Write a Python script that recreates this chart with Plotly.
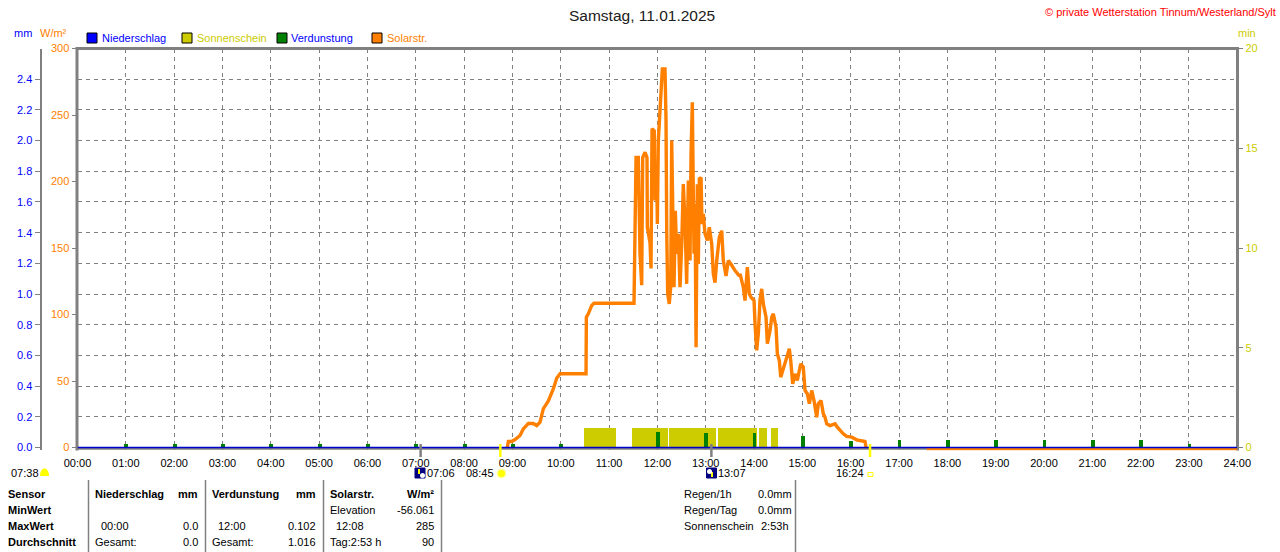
import plotly.graph_objects as go

W, H = 1280, 552
FONT = "Liberation Sans, Arial, sans-serif"

# --- data -------------------------------------------------------------
hours = list(range(25))
hour_labels = ["%02d:00" % h for h in hours]

# Niederschlag (mm), hourly
niederschlag_mm = [0.0, 0.0, 0.0, 0.0, 0.0, 0.0, 0.0, 0.0, 0.0, 0.0, 0.0, 0.0, 0.0,
                   0.0, 0.0, 0.0, 0.0, 0.0, 0.0, 0.0, 0.0, 0.0, 0.0, 0.0, 0.0]

# Verdunstung (mm), hourly
verdunstung_h = [1, 2, 3, 4, 5, 6, 7, 8, 9, 10, 11, 12, 13, 14, 15, 16, 17, 18, 19, 20, 21, 22, 23]
verdunstung_mm = [0.024, 0.024, 0.024, 0.024, 0.024, 0.024, 0.024, 0.024, 0.024, 0.024, 0.0,
                  0.102, 0.100, 0.100, 0.075, 0.046, 0.052, 0.052, 0.052, 0.052, 0.052, 0.052, 0.028]

# Sonnenschein (min) blocks
sonne_start = ["10:28", "11:28", "12:14", "13:14", "14:06", "14:21"]
sonne_end = ["11:08", "12:13", "13:12", "14:03", "14:16", "14:29"]
sonne_min = [1.0, 1.0, 1.0, 1.0, 1.0, 1.0]

# Solarstrahlung (W/m2), time in hours
solar_t = [8.894, 8.915, 8.985, 9.054, 9.157, 9.225, 9.329, 9.432, 9.503, 9.571, 9.639, 9.743,
           9.846, 9.916, 9.985, 10.523, 10.53, 10.570, 10.641, 10.688, 11.516, 11.526, 11.537,
           11.558, 11.605, 11.626, 11.640, 11.675, 11.696, 11.744, 11.785, 11.792, 11.847,
           11.868, 11.889, 11.936, 11.951, 11.986, 11.999, 12.019, 12.055, 12.075, 12.102,
           12.157, 12.178, 12.193, 12.213, 12.246, 12.275, 12.296, 12.317, 12.344, 12.371,
           12.400, 12.433, 12.468, 12.503, 12.536, 12.571, 12.606, 12.640, 12.675, 12.696,
           12.723, 12.743, 12.758, 12.779, 12.800, 12.826, 12.847, 12.868, 12.903, 12.923,
           12.950, 12.985, 13.033, 13.074, 13.124, 13.157, 13.192, 13.228, 13.281, 13.331,
           13.364, 13.420, 13.468, 13.538, 13.606, 13.695, 13.710, 13.778, 13.813, 13.861,
           13.902, 13.937, 14.000, 14.020, 14.055, 14.088, 14.123, 14.158, 14.192, 14.248,
           14.275, 14.331, 14.366, 14.399, 14.455, 14.482, 14.523, 14.552, 14.593, 14.641,
           14.688, 14.730, 14.759, 14.800, 14.848, 14.895, 14.937, 14.966, 15.019, 15.055,
           15.102, 15.144, 15.193, 15.241, 15.297, 15.330, 15.386, 15.433, 15.468, 15.504,
           15.572, 15.676, 15.723, 15.779, 15.847, 15.917, 16.021, 16.124, 16.296, 16.317,
           None, 17.573, 24.0]
solar_w = [0, 4.5, 4.5, 6, 9, 14, 18, 18, 16.5, 19, 29, 35,
           44, 52, 55.4, 55.4, 98, 100.5, 106.8, 108.5, 108.5, 137, 195.7,
           218, 218, 188, 146, 122, 218, 222, 218, 165.6, 154,
           134.6, 239.6, 238, 185.7, 203, 168, 230.8, 253, 268, 284.7,
           284.7, 247, 163, 115.6, 108, 120.5, 230.8, 190.7, 120.5, 178,
           145.6, 160.7, 120.5, 153, 198, 170.7, 123, 200.8, 140.6, 220.8,
           259.6, 190.7, 145.6, 183, 75.4, 198, 138, 202, 203, 168,
           175.7, 160.7, 155.6, 165.6, 153, 130.6, 124, 140.6, 158, 163,
           140.6, 129, 140.6, 137, 133, 129, 130.6, 120.5, 110.5, 135.6,
           115.6, 113, 110.5, 93, 73, 85.5, 110.5, 119.3, 108, 98,
           78, 88, 98, 100.5, 90.5, 70.5, 65.4, 52.9, 57.9, 65.4,
           70.5, 74.2, 65.4, 47.9, 55.4, 50.4, 57.9, 62.9, 60.4, 42.9,
           40.4, 32.9, 42.9, 35.3, 22.8, 32.9, 35.3, 25.3, 22.8, 17.8,
           16.5, 17.8, 15.3, 12.8, 10.3, 8.3, 7.8, 5.8, 4.5, 0,
           None, -1.2, -1.2]

# sun / moon events
sonne_auf, sonne_unter = 8.75, 16.4      # 08:45, 16:24
mond_unter, mond_auf = 7.1, 13.117       # 07:06, 13:07


def hm(s):
    h, m = s.split(":")
    return int(h) + int(m) / 60.0


sonne_x = [(hm(a) + hm(b)) / 2 for a, b in zip(sonne_start, sonne_end)]
sonne_w = [hm(b) - hm(a) for a, b in zip(sonne_start, sonne_end)]

# --- layout helpers (pixel -> paper) -----------------------------------
def X(p):
    return p / W


def Y(p):
    return (H - p) / H


GRAY = "#808080"
BLUE = "#0000ff"
ORANGE = "#ff8000"
YELLOW = "#cccc00"
GREEN = "#008000"

lo = 2.0  # W/m2 below zero shown
top_px, zero_px = 48.5, 447.5
ppw = (zero_px - top_px) / 300.0
dom_y = [Y(zero_px + lo * ppw), Y(top_px)]
dom_x = [X(77.5), X(1237.3)]

fig = go.Figure()
fig.add_trace(go.Bar(x=sonne_x, y=sonne_min, width=sonne_w, marker=dict(color=YELLOW, line=dict(width=0)),
                     xaxis="x", yaxis="y", name="Sonnenschein"))
fig.add_trace(go.Bar(x=verdunstung_h, y=verdunstung_mm, width=0.08, marker=dict(color=GREEN, line=dict(width=0)),
                     xaxis="x", yaxis="y2", name="Verdunstung"))
fig.add_trace(go.Scatter(x=solar_t, y=solar_w, mode="lines", line=dict(color=ORANGE, width=3.4),
                         connectgaps=False, xaxis="x", yaxis="y3", name="Solarstr."))
fig.add_trace(go.Scatter(x=hours, y=niederschlag_mm, mode="lines", line=dict(color="#0000cc", width=1.6),
                         xaxis="x", yaxis="y4", name="Niederschlag"))


def txt(x, y, s, color="black", size=11, anchor="left", bold=False):
    return dict(x=X(x), y=Y(y), xref="paper", yref="paper", text=s, showarrow=False,
                xanchor=anchor, yanchor="middle", borderpad=0,
                font=dict(family=FONT, size=size, color=color, weight="bold" if bold else "normal"))


ann = [
    txt(642, 15, "Samstag, 11.01.2025", color="#202020", size=15.5, anchor="center"),
    txt(1277, 12, "© private Wetterstation Tinnum/Westerland/Sylt", color="#ff0000", anchor="right"),
    txt(13, 33, "mm", color=BLUE),
    txt(39, 33, "W/m²", color=ORANGE),
    txt(1237, 33, "min", color=YELLOW),
    txt(101, 38, "Niederschlag", color=BLUE),
    txt(196, 38, "Sonnenschein", color=YELLOW),
    txt(290, 38, "Verdunstung", color=BLUE),
    txt(386, 38, "Solarstr.", color=ORANGE),
    txt(10, 473, "07:38"),
    txt(426, 473, "07:06"),
    txt(495, 473, "08:45", anchor="right"),
    txt(717, 473, "13:07"),
    txt(865, 473, "16:24", anchor="right"),
]

# table
rows = [494, 510, 526, 542]
for r, s in zip(rows, ["Sensor", "MinWert", "MaxWert", "Durchschnitt"]):
    ann.append(txt(7, r, s, bold=True))
ann += [
    txt(94, rows[0], "Niederschlag", bold=True), txt(199, rows[0], "mm", bold=True, anchor="right"),
    txt(211, rows[0], "Verdunstung", bold=True), txt(317, rows[0], "mm", bold=True, anchor="right"),
    txt(329, rows[0], "Solarstr.", bold=True), txt(435, rows[0], "W/m²", bold=True, anchor="right"),
    txt(329, rows[1], "Elevation"), txt(435, rows[1], "-56.061", anchor="right"),
    txt(100, rows[2], "00:00"), txt(199, rows[2], "0.0", anchor="right"),
    txt(217, rows[2], "12:00"), txt(317, rows[2], "0.102", anchor="right"),
    txt(335, rows[2], "12:08"), txt(435, rows[2], "285", anchor="right"),
    txt(94, rows[3], "Gesamt:"), txt(199, rows[3], "0.0", anchor="right"),
    txt(211, rows[3], "Gesamt:"), txt(317, rows[3], "1.016", anchor="right"),
    txt(329, rows[3], "Tag:2:53 h"), txt(435, rows[3], "90", anchor="right"),
    txt(683, rows[0], "Regen/1h"), txt(757, rows[0], "0.0mm"),
    txt(683, rows[1], "Regen/Tag"), txt(757, rows[1], "0.0mm"),
    txt(683, rows[2], "Sonnenschein"), txt(760, rows[2], "2:53h"),
]


def pline(x0, y0, x1, y1, color=GRAY, width=1, layer="above"):
    return dict(type="line", xref="paper", yref="paper", x0=X(x0), y0=Y(y0), x1=X(x1), y1=Y(y1),
                line=dict(color=color, width=width), layer=layer)


def prect(x0, y0, x1, y1, fill, color="black", width=1):
    return dict(type="rect", xref="paper", yref="paper", x0=X(x0), y0=Y(y0), x1=X(x1), y1=Y(y1),
                fillcolor=fill, line=dict(color=color, width=width))


shapes = [
    # frame
    pline(77, 48.5, 1238, 48.5, width=3, layer="below"),
    pline(77, 47, 77, 450.5, width=3, layer="below"),
    pline(1237.5, 47, 1237.5, 450.5, width=3, layer="below"),
    pline(77, 448.8, 1238, 448.8, width=2, layer="below"),
    # legend squares
    prect(87, 33, 97, 43, BLUE),
    prect(182, 33, 192, 43, YELLOW),
    prect(277, 33, 287, 43, GREEN),
    prect(372, 33, 382, 43, ORANGE),
    # table separators
    pline(88.5, 480, 88.5, 552, width=1.5),
    pline(205.5, 480, 205.5, 552, width=1.5),
    pline(323.5, 480, 323.5, 552, width=1.5),
    pline(441.5, 480, 441.5, 552, width=1.5),
    pline(795.5, 480, 795.5, 552, width=1.5),
    # 07:38 half sun
    dict(type="path", xref="paper", yref="paper",
         path="M %f,%f C %f,%f %f,%f %f,%f Z" % (X(40), Y(476), X(40), Y(466), X(49), Y(466), X(49), Y(476)),
         fillcolor="#ffff00", line=dict(color="#ffff00", width=0)),
    # 08:45 sun
    dict(type="circle", xref="paper", yref="paper", x0=X(496.5), y0=Y(478.5), x1=X(506.5), y1=Y(468.5),
         fillcolor="#ffffa0", line=dict(width=0)),
    dict(type="circle", xref="paper", yref="paper", x0=X(498), y0=Y(477), x1=X(505), y1=Y(470),
         fillcolor="#ffff00", line=dict(width=0)),
    # 16:24 marker
    dict(type="rect", xref="paper", yref="paper", x0=X(868), y0=Y(476.5), x1=X(873), y1=Y(472.5),
         fillcolor="white", line=dict(color="#ffff00", width=1)),
    # moon icons
    prect(415, 468, 425, 478, "#000080", color="#000080"),
    pline(419, 469, 419, 474, color="#ffff00", width=2),
    dict(type="circle", xref="paper", yref="paper", x0=X(420), y0=Y(478), x1=X(425), y1=Y(473),
         fillcolor="white", line=dict(width=0)),
    prect(706.5, 468, 716.5, 478, "#000080", color="#000080"),
    pline(712, 472, 712, 477, color="#ffff00", width=2),
    dict(type="circle", xref="paper", yref="paper", x0=X(707), y0=Y(474), x1=X(712), y1=Y(469),
         fillcolor="white", line=dict(width=0)),
]
# event ticks through the x axis scale
for t, c in [(mond_unter, GRAY), (mond_auf, GRAY), (sonne_auf, "#ffff00"), (sonne_unter, "#ffff00")]:
    shapes.append(dict(type="line", xref="x", yref="paper", x0=t, x1=t, y0=Y(444), y1=Y(457),
                       line=dict(color=c, width=2.5), layer="above"))

mm_rng = [-lo / 300.0 * 2.6, 2.6]

fig.update_layout(
    width=W, height=H,
    margin=dict(l=0, r=0, t=0, b=0),
    paper_bgcolor="white", plot_bgcolor="white",
    showlegend=False, barmode="overlay", bargap=0,
    font=dict(family=FONT, size=11, color="black"),
    xaxis=dict(domain=dom_x, range=[0, 24], tickvals=hours, ticktext=hour_labels,
               showgrid=True, gridcolor=GRAY, griddash="4px,4px", gridwidth=1,
               zeroline=False, showline=False, ticks="outside", ticklen=3, tickcolor="rgba(0,0,0,0)",
               tickfont=dict(size=11, color="black"), automargin=False, fixedrange=True),
    yaxis=dict(domain=dom_y, range=[-lo / 300.0 * 20, 20], side="right", anchor="x",
               tickvals=[0, 5, 10, 15, 20], tickfont=dict(color=YELLOW, size=11),
               ticks="outside", ticklen=5, tickcolor=GRAY, showgrid=False, zeroline=False,
               showline=False, automargin=False),
    yaxis2=dict(range=mm_rng, overlaying="y", anchor="free", position=X(40.5), side="left",
                tickvals=[round(0.2 * i, 1) for i in range(13)], tickformat=".1f",
                tickfont=dict(color=BLUE, size=11), ticks="outside", ticklen=5, tickcolor=GRAY,
                showline=True, linecolor=GRAY, linewidth=2,
                showgrid=True, gridcolor=GRAY, griddash="4px,4px", gridwidth=1,
                zeroline=False, automargin=False),
    yaxis3=dict(range=[-lo, 300], overlaying="y", anchor="x", side="left",
                tickvals=[0, 50, 100, 150, 200, 250, 300], tickfont=dict(color=ORANGE, size=11),
                ticks="outside", ticklen=5, tickcolor=GRAY, showgrid=False, zeroline=False,
                showline=False, automargin=False),
    yaxis4=dict(range=mm_rng, overlaying="y", anchor="x", visible=False),
    annotations=ann,
    shapes=shapes,
)

# the page body has a default 8px margin; remove it so the figure fills the window
fig.write_html("out.html", config={"displayModeBar": False},
               post_script="document.body.style.margin='0';")
